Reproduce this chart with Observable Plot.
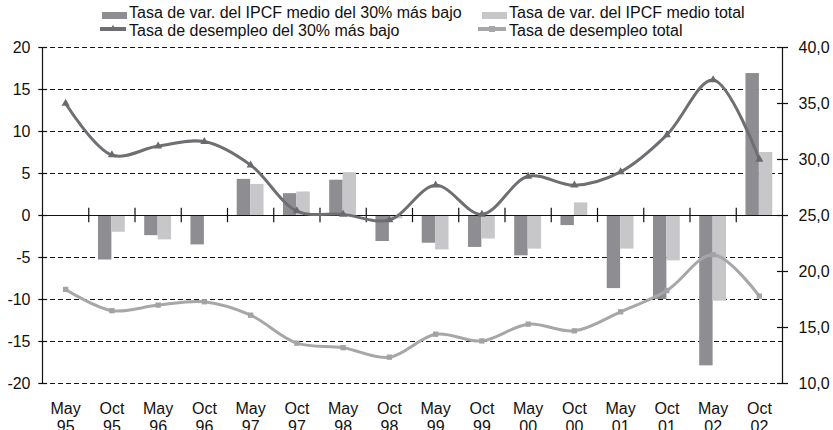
<!DOCTYPE html>
<html>
<head>
<meta charset="utf-8">
<script src="https://cdn.jsdelivr.net/npm/d3@7"></script>
<script src="https://cdn.jsdelivr.net/npm/@observablehq/plot@0.6"></script>
<style>
  html, body { margin: 0; padding: 0; background: #fff; }
  #wrap { position: relative; width: 833px; height: 430px; overflow: hidden; font-family: "Liberation Sans", Arial, sans-serif; }
  .leg { position: absolute; font-size: 16px; color: #111; white-space: nowrap; line-height: 18px; }
  .sw { position: absolute; }
  #chart { position: absolute; left: 0; top: 0; }
</style>
</head>
<body>
<div id="wrap">
  <div id="chart"></div>
  <div class="sw" style="left:102px;top:12px;width:25px;height:7px;background:#8e8e92"></div>
  <div class="leg" style="left:129px;top:4px">Tasa de var. del IPCF medio del 30% más bajo</div>
  <div class="sw" style="left:482px;top:12px;width:25px;height:7px;background:#c7c7c9"></div>
  <div class="leg" style="left:509px;top:4px">Tasa de var. del IPCF medio total</div>
  <svg class="sw" style="left:100px;top:22px" width="28" height="12"><line x1="0" x2="26" y1="7" y2="7" stroke="#6f6f73" stroke-width="4"/><path d="M13,3 L16.5,8 L9.5,8 Z" fill="#6f6f73"/></svg>
  <div class="leg" style="left:129px;top:22px">Tasa de desempleo del 30% más bajo</div>
  <svg class="sw" style="left:478px;top:22px" width="30" height="12"><line x1="0" x2="28" y1="7" y2="7" stroke="#a7a7aa" stroke-width="4"/><rect x="11" y="4" width="6" height="6" fill="#a7a7aa"/></svg>
  <div class="leg" style="left:509px;top:22px">Tasa de desempleo total</div>
</div>
<script>
const categories = ["May\n95","Oct\n95","May\n96","Oct\n96","May\n97","Oct\n97","May\n98","Oct\n98",
                    "May\n99","Oct\n99","May\n00","Oct\n00","May\n01","Oct\n01","May\n02","Oct\n02"];
const varIPCF30 = [null,-5.3,-2.4,-3.5,4.3,2.6,4.2,-3.1,-3.3,-3.8,-4.8,-1.2,-8.7,-10.0,-17.9,16.9];
const varIPCFTotal = [null,-2.0,-2.9,null,3.7,2.8,5.1,-0.4,-4.1,-2.8,-4.0,1.5,-4.0,-5.4,-10.2,7.5];
const desempleo30 = [35.0,30.4,31.2,31.6,29.5,25.4,25.1,24.6,27.7,25.1,28.5,27.7,28.9,32.2,37.1,30.0];
const desempleoTotal = [18.4,16.5,17.0,17.3,16.1,13.6,13.2,12.35,14.4,13.8,15.3,14.7,16.4,18.3,21.5,17.8];
const leftTicks = [-20,-15,-10,-5,0,5,10,15,20];
const rightTicks = [10,15,20,25,30,35,40];

// right axis (10..40) mapped onto left scale (-20..20)
const toLeft = r => (r - 25) * 40 / 30;
const fmtRight = v => (v * 30 / 40 + 25).toFixed(1).replace(".", ",");

const n = categories.length;
const idx = d3.range(n);
const bw = 0.29;
const bars30 = idx.filter(i => varIPCF30[i] != null).map(i => ({i, v: varIPCF30[i]}));
const barsTot = idx.filter(i => varIPCFTotal[i] != null).map(i => ({i, v: varIPCFTotal[i]}));
const line30 = idx.map(i => ({i, v: toLeft(desempleo30[i])}));
const lineTot = idx.map(i => ({i, v: toLeft(desempleoTotal[i])}));
const bounds = d3.range(1, n);

const font = "Liberation Sans, Arial, sans-serif";
const plot = Plot.plot({
  width: 833,
  height: 430,
  marginTop: 47,
  marginBottom: 47,
  marginLeft: 42,
  marginRight: 51,
  style: {fontFamily: font, fontSize: "16px", color: "#111", background: "transparent"},
  x: {type: "linear", domain: [0, n], axis: null},
  y: {domain: [-20, 20], axis: null},
  marks: [
    Plot.ruleY(leftTicks.filter(t => t !== 0), {stroke: "#111", strokeWidth: 1, strokeDasharray: "5,3"}),
    Plot.rectY(bars30, {x1: d => d.i + 0.5 - bw, x2: d => d.i + 0.5, y1: 0, y2: "v", fill: "#8e8e92"}),
    Plot.rectY(barsTot, {x1: d => d.i + 0.5, x2: d => d.i + 0.5 + bw, y1: 0, y2: "v", fill: "#c7c7c9"}),
    Plot.ruleY([0], {stroke: "#111", strokeWidth: 1.2}),
    Plot.ruleX(bounds, {y1: -0.85, y2: 0.85, stroke: "#111", strokeWidth: 1.2}),
    Plot.ruleX([0, n], {stroke: "#111", strokeWidth: 1.2}),
    Plot.ruleY(leftTicks, {x1: -0.08, x2: 0.11, stroke: "#111", strokeWidth: 1.2}),
    Plot.ruleY(rightTicks.map(toLeft), {x1: n - 0.11, x2: n + 0.13, stroke: "#111", strokeWidth: 1.2}),
    Plot.line(lineTot, {x: d => d.i + 0.5, y: "v", stroke: "#a7a7aa", strokeWidth: 3, curve: "catmull-rom"}),
    Plot.dot(lineTot, {x: d => d.i + 0.5, y: "v", symbol: "square", r: 3, fill: "#a3a3a6"}),
    Plot.line(line30, {x: d => d.i + 0.5, y: "v", stroke: "#6f6f73", strokeWidth: 3, curve: "catmull-rom"}),
    Plot.dot(line30, {x: d => d.i + 0.5, y: "v", symbol: "triangle", r: 3, fill: "#6a6a6e"}),
    Plot.text(leftTicks, {x: 0, y: d => d, text: d => String(d), textAnchor: "end", dx: -12, fill: "#111", fontSize: 16}),
    Plot.text(rightTicks, {x: n, y: d => toLeft(d), text: d => fmtRight(toLeft(d)), textAnchor: "start", dx: 16, fill: "#111", fontSize: 16}),
    Plot.text(idx, {x: i => i + 0.5, frameAnchor: "bottom", text: i => categories[i], lineAnchor: "top", dy: 17, lineHeight: 1.15, fill: "#111", fontSize: 16})
  ]
});
document.getElementById("chart").appendChild(plot);
</script>
</body>
</html>
